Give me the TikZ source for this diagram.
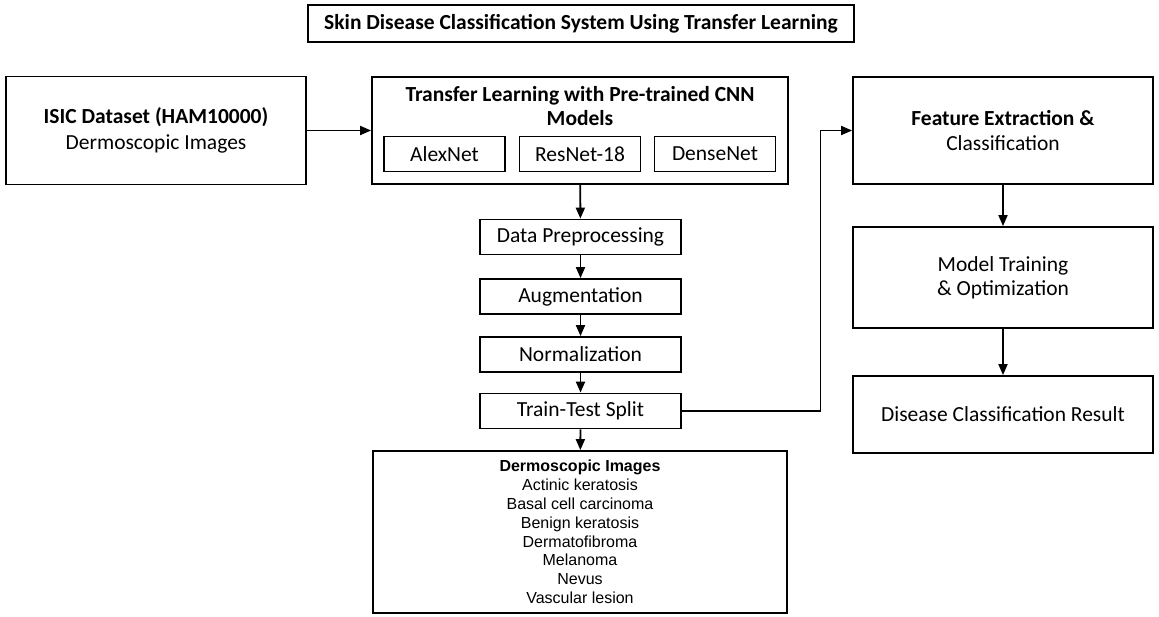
\documentclass[tikz,border=0pt]{standalone}
\usepackage{fontspec}
\setmainfont{Carlito}
\newfontfamily\listfont{Liberation Sans}
\usetikzlibrary{arrows.meta}

\begin{document}
\begin{tikzpicture}[x=1pt,y=-1pt,
  box/.style={draw,line width=1.8pt,align=center,inner sep=0pt,font=\fontsize{21.5}{25}\selectfont},
  subbox/.style={box,minimum width=121pt,minimum height=35pt},
  stagebox/.style={box,minimum width=201pt,minimum height=35pt},
  arr/.style={line width=1.8pt,-{Triangle[length=11pt,width=9pt]}}]
\useasboundingbox (0,0) rectangle (1159,617);

\node[box,minimum width=546pt,minimum height=37pt,font=\bfseries\fontsize{21.5}{25}\selectfont] (title) at (581,23.5) {Skin Disease Classification System Using Transfer Learning};

\node[box,minimum width=300pt,minimum height=108pt,font=\fontsize{21.5}{26}\selectfont] (isic) at (156,130.5) {\textbf{ISIC Dataset (HAM10000)}\\Dermoscopic Images};

\node[box,minimum width=416pt,minimum height=107pt] (tl) at (580,130.5) {};
\node[align=center,inner sep=0pt,font=\bfseries\fontsize{21.5}{24}\selectfont] (tltitle) at (580,106) {Transfer Learning with Pre-trained CNN\\Models};
\node[subbox] (alex) at (444.5,154) {AlexNet};
\node[subbox] (resnet) at (580,154) {ResNet-18};
\node[subbox] (dense) at (715,154) {DenseNet};

\node[stagebox] (prep) at (580.5,237) {Data Preprocessing};
\node[stagebox] (aug) at (580.5,296.5) {Augmentation};
\node[stagebox] (norm) at (580.5,354.5) {Normalization};
\node[stagebox] (split) at (580.5,411) {Train-Test Split};

\node[box,minimum width=414pt,minimum height=162pt,font=\listfont\fontsize{16}{18.8}\selectfont] (classes) at (580,532) {\textbf{Dermoscopic Images}\\Actinic keratosis\\Basal cell carcinoma\\Benign keratosis\\Dermatofibroma\\Melanoma\\Nevus\\Vascular lesion};

\node[box,minimum width=300pt,minimum height=107pt,font=\fontsize{21.5}{25}\selectfont] (feat) at (1003,130.5) {\textbf{Feature Extraction \&}\\Classification};
\node[box,minimum width=300pt,minimum height=101pt,font=\fontsize{21.5}{24}\selectfont] (train) at (1003,277.5) {Model Training\\\& Optimization};
\node[box,minimum width=300pt,minimum height=77pt] (result) at (1003,414.5) {Disease Classification Result};

\coordinate (bend) at (820.5,411);

\draw[arr] (isic) -- (tl);
\draw[arr] (tl) -- (prep);
\draw[arr] (prep) -- (aug);
\draw[arr] (aug) -- (norm);
\draw[arr] (norm) -- (split);
\draw[arr] (split) -- (classes);
\draw[arr] (split) -- (bend) |- (feat);
\draw[arr] (feat) -- (train);
\draw[arr] (train) -- (result);
\end{tikzpicture}
\end{document}
